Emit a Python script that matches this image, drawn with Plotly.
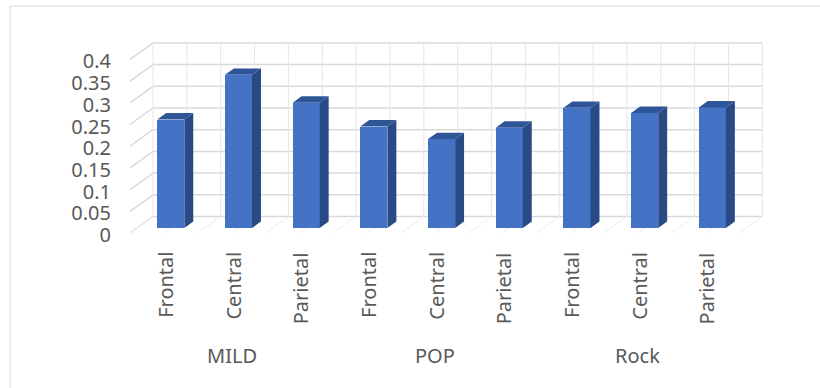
import plotly.graph_objects as go

# ---- data ----
groups = ["MILD", "POP", "Rock"]
regions = ["Frontal", "Central", "Parietal"]
values = [0.25, 0.353, 0.289, 0.234, 0.205, 0.231, 0.277, 0.265, 0.278]
y_ticks = [0, 0.05, 0.1, 0.15, 0.2, 0.25, 0.3, 0.35, 0.4]
y_tick_labels = ["0", "0.05", "0.1", "0.15", "0.2", "0.25", "0.3", "0.35", "0.4"]

# ---- 3D-look geometry (in data units) ----
DX, DY = 0.34, 0.038        # depth offset of back wall vs front plane
F0, FD = 0.30, 0.39         # bar front depth fraction, bar depth fraction
BW = 0.40                   # bar width (slot fraction)
n = len(groups) * len(regions)
cats = [r for g in groups for r in regions]
xi = list(range(n))

FRONT = "#4472C4"
SIDE = "#2A4A86"
TOP = "#2F5599"
GRID = "#D9D9D9"
TXT = "#595959"
FONT = "Noto Sans"

W, H = 820, 388
PX_SLOT, PX_UNIT = 67.7, 434.0
X0PX, Y0PX = 163.85, 233.0
xr = [(-X0PX) / PX_SLOT, (W - X0PX) / PX_SLOT]
yr = [(Y0PX - H) / PX_UNIT, Y0PX / PX_UNIT]

fig = go.Figure()
base = F0 * DY
bx = [i + F0 * DX for i in xi]
fig.add_trace(go.Bar(x=bx, y=values, base=base, width=BW,
                     marker=dict(color=FRONT, line=dict(width=0)),
                     hoverinfo="skip", showlegend=False))
# invisible trace so the value axis (y2) is drawn
fig.add_trace(go.Scatter(x=[xr[0]], y=[0], yaxis="y2", mode="markers",
                         marker=dict(opacity=0), hoverinfo="skip",
                         showlegend=False))

shapes = []
ymax = max(y_ticks)
left = -0.5
right = n - 0.5
# back wall horizontal gridlines + left wall diagonals
for t in y_ticks:
    shapes.append(dict(type="line", xref="x", yref="y", layer="below",
                       x0=left + DX, x1=right + DX, y0=t + DY, y1=t + DY,
                       line=dict(color=GRID, width=1.5)))
    shapes.append(dict(type="line", xref="x", yref="y", layer="below",
                       x0=left, x1=left + DX, y0=t, y1=t + DY,
                       line=dict(color=GRID, width=1.5)))
# back wall verticals + floor diagonals every half slot
k = 0
while left + k * 0.5 <= right + 1e-9:
    xv = left + k * 0.5
    shapes.append(dict(type="line", xref="x", yref="y", layer="below",
                       x0=xv + DX, x1=xv + DX, y0=DY, y1=ymax + DY,
                       line=dict(color="#E6E6E6", width=1)))
    shapes.append(dict(type="line", xref="x", yref="y", layer="below",
                       x0=xv, x1=xv + DX, y0=0, y1=DY,
                       line=dict(color="#EDEDED", width=1)))
    k += 1

# bar side and top faces
for x, v in zip(bx, values):
    xl, xrr = x - BW / 2, x + BW / 2
    ddx, ddy = FD * DX, FD * DY
    top = base + v
    side = (f"M {xrr},{base} L {xrr+ddx},{base+ddy} L {xrr+ddx},{top+ddy} "
            f"L {xrr},{top} Z")
    topf = (f"M {xl},{top} L {xrr},{top} L {xrr+ddx},{top+ddy} "
            f"L {xl+ddx},{top+ddy} Z")
    shapes.append(dict(type="path", path=side, xref="x", yref="y",
                       fillcolor=SIDE, line=dict(width=0)))
    shapes.append(dict(type="path", path=topf, xref="x", yref="y",
                       fillcolor=TOP, line=dict(width=0)))

# outer chart border
shapes.append(dict(type="rect", xref="paper", yref="paper",
                   x0=10 / W, x1=1.02, y0=-0.02, y1=1 - 6 / H,
                   line=dict(color="#D9D9D9", width=1)))

ann = []
for i, c in zip(xi, cats):
    ann.append(dict(x=i, y=-17 / PX_UNIT, xref="x", yref="y", text=c,
                    textangle=-90, showarrow=False, xanchor="center",
                    yanchor="top", xshift=1,
                    font=dict(family=FONT, size=20, color=TXT)))
for gi, g in enumerate(groups):
    cx = gi * len(regions) + (len(regions) - 1) / 2
    ann.append(dict(x=cx, y=-122 / PX_UNIT, xref="x", yref="y", text=g,
                    showarrow=False, xanchor="center", yanchor="middle",
                    font=dict(family=FONT, size=20, color=TXT)))

fig.update_layout(width=W, height=H, margin=dict(l=0, r=0, t=0, b=0),
                  paper_bgcolor="white", plot_bgcolor="white",
                  xaxis=dict(range=xr, visible=False, fixedrange=True),
                  yaxis=dict(range=yr, visible=False, fixedrange=True),
                  yaxis2=dict(range=[yr[0] + 2 / PX_UNIT, yr[1] + 2 / PX_UNIT],
                              overlaying="y", anchor="free",
                              position=111 / W, side="left",
                              tickmode="array", tickvals=y_ticks,
                              ticktext=y_tick_labels, ticks="",
                              showgrid=False, zeroline=False, showline=False,
                              tickfont=dict(family=FONT, size=20, color=TXT),
                              fixedrange=True),
                  shapes=shapes, annotations=ann, showlegend=False,
                  bargap=0)
fig.write_html("out.html")
